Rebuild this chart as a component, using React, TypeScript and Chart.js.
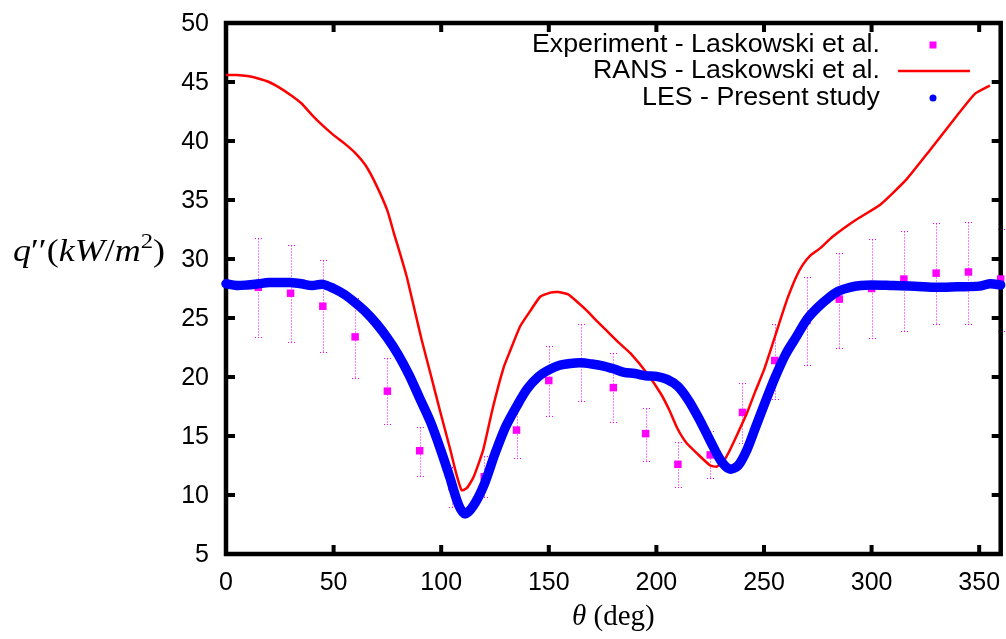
import React, { useEffect, useRef } from "react";
import { Chart, registerables } from "chart.js";

Chart.register(...registerables);

// ---------- data ----------
const expTheta = [15, 30, 45, 60, 75, 90, 105, 120, 135, 150, 165, 180, 195, 210, 225, 240, 255, 270, 285, 300, 315, 330, 345, 360];
const expQ = [27.6, 27.1, 26.0, 23.4, 18.8, 13.75, 10.7, 11.55, 15.5, 19.7, 21.2, 19.1, 15.2, 12.6, 13.4, 17.0, 21.4, 24.8, 26.6, 27.5, 28.3, 28.8, 28.9, 28.3];
const expHigh = [31.8, 31.15, 29.9, 26.7, 21.6, 15.8, 12.4, 13.3, 17.75, 22.6, 24.45, 22.0, 17.4, 14.5, 15.45, 19.5, 24.5, 28.5, 30.55, 31.7, 32.4, 33.05, 33.1, 32.5];
const expLow = [23.4, 23.0, 22.1, 19.9, 16.0, 11.6, 9.0, 9.8, 13.1, 16.7, 18.0, 16.2, 12.9, 10.7, 11.4, 14.4, 18.1, 21.05, 22.5, 23.3, 23.9, 24.45, 24.45, 23.9];

const ransTheta = [0, 5, 10, 15, 20, 25, 30, 35, 40, 45, 50, 55, 60, 65, 70, 75, 78, 81, 84, 88, 91, 95, 99.5, 104, 107, 109.5, 112, 115, 119.5, 124, 129, 132, 136.7, 141.4, 146, 150.7, 154.4, 159, 163, 167.8, 172, 177, 182, 188, 195.7, 202, 206, 209.6, 214, 219, 225, 228, 231, 234, 238, 242, 246, 250, 254, 257.7, 261, 265, 268, 271.6, 276, 282, 292.6, 304, 316, 327, 339, 348, 355];
const ransQ = [45.6, 45.6, 45.5, 45.3, 45.0, 44.5, 43.9, 43.2, 42.2, 41.3, 40.5, 39.8, 39.0, 37.9, 36.2, 34.1, 32.2, 30.4, 28.5, 25.4, 23.1, 20.3, 17.1, 14.0, 11.8, 10.4, 10.6, 11.5, 13.8, 17.4, 20.8, 22.2, 24.3, 25.6, 26.8, 27.15, 27.2, 27.0, 26.4, 25.6, 24.8, 23.9, 23.0, 22.0, 20.3, 18.6, 17.2, 15.7, 14.4, 13.5, 12.5, 12.4, 12.8, 13.75, 15.3, 16.9, 18.8, 20.6, 22.8, 24.9, 26.7, 28.5, 29.5, 30.3, 30.9, 31.9, 33.3, 34.6, 36.7, 39.2, 42.0, 44.0, 44.7];

const lesTheta = [0, 5, 10, 15, 20, 25, 30, 35, 40, 45, 50, 55, 60, 65, 70, 75, 80, 85, 90, 95, 100, 104, 108, 111, 115, 120, 125, 130, 135, 140, 145, 150, 155, 160, 165, 170, 175, 180, 185, 190, 195, 200, 205, 210, 215, 220, 225, 230, 234, 238, 242, 246, 250, 255, 260, 265, 270, 275, 280, 285, 290, 295, 300, 310, 320, 330, 340, 350, 355, 360];
const lesQ = [27.9, 27.75, 27.8, 27.9, 28.0, 28.0, 28.0, 27.9, 27.75, 27.85, 27.5, 27.0, 26.3, 25.5, 24.5, 23.3, 21.9, 20.2, 18.2, 16.2, 13.7, 11.5, 9.2, 8.4, 9.1, 10.9, 13.5, 15.8, 17.5, 19.0, 20.0, 20.6, 21.0, 21.15, 21.2, 21.1, 20.95, 20.7, 20.4, 20.3, 20.1, 20.05, 19.8, 19.2, 18.0, 16.4, 14.6, 12.9, 12.2, 12.5, 13.8, 15.7, 17.6, 19.9, 21.9, 23.4, 24.9, 25.9, 26.7, 27.3, 27.6, 27.75, 27.8, 27.75, 27.7, 27.6, 27.65, 27.7, 27.9, 27.8];

const xTicks = [0, 50, 100, 150, 200, 250, 300, 350];
const yTicks = [5, 10, 15, 20, 25, 30, 35, 40, 45, 50];

const legendLabels = ["Experiment - Laskowski et al.", "RANS - Laskowski et al.", "LES - Present study"];

const MAGENTA = "#ff00ff";
const RED = "#ff0000";
const BLUE = "#0000ff";
const SANS = '"Liberation Sans", Arial, Helvetica, sans-serif';
const SERIF = '"Liberation Serif", "DejaVu Serif", "Times New Roman", serif';

const framePlugin = {
  id: "gnuplotFrame",
  beforeDatasetsDraw(chart: any) {
    const { ctx, chartArea: a, scales } = chart;
    const xs = scales.x;
    const ys = scales.y;
    ctx.save();
    // error bars (dotted)
    ctx.strokeStyle = MAGENTA;
    ctx.lineWidth = 1;
    ctx.setLineDash([1, 2]);
    for (let i = 0; i < expTheta.length; i++) {
      const px = Math.round(xs.getPixelForValue(expTheta[i])) + 0.5;
      const pt = Math.round(ys.getPixelForValue(expHigh[i])) + 0.5;
      const pb = Math.round(ys.getPixelForValue(expLow[i])) + 0.5;
      ctx.beginPath();
      ctx.moveTo(px, pt);
      ctx.lineTo(px, pb);
      ctx.moveTo(px - 3.5, pt);
      ctx.lineTo(px + 3.5, pt);
      ctx.moveTo(px - 3.5, pb);
      ctx.lineTo(px + 3.5, pb);
      ctx.stroke();
    }
    ctx.setLineDash([]);
    // frame
    ctx.strokeStyle = "#000";
    ctx.lineWidth = 4.5;
    ctx.lineJoin = "miter";
    ctx.strokeRect(a.left, a.top, a.right - a.left, a.bottom - a.top);
    // ticks (inward, mirrored)
    ctx.lineWidth = 4;
    const tl = 9;
    for (const v of xTicks) {
      const px = xs.getPixelForValue(v);
      ctx.beginPath();
      ctx.moveTo(px, a.bottom);
      ctx.lineTo(px, a.bottom - tl);
      ctx.moveTo(px, a.top);
      ctx.lineTo(px, a.top + tl);
      ctx.stroke();
    }
    for (const v of yTicks) {
      const py = ys.getPixelForValue(v);
      ctx.beginPath();
      ctx.moveTo(a.left, py);
      ctx.lineTo(a.left + tl, py);
      ctx.moveTo(a.right, py);
      ctx.lineTo(a.right - tl, py);
      ctx.stroke();
    }
    ctx.restore();
  },
  afterDraw(chart: any) {
    const { ctx, chartArea: a, scales } = chart;
    const xs = scales.x;
    const ys = scales.y;
    ctx.save();
    ctx.fillStyle = "#000";
    ctx.font = `25px ${SANS}`;
    // y tick labels
    ctx.textAlign = "right";
    ctx.textBaseline = "middle";
    for (const v of yTicks) {
      ctx.fillText(String(v), a.left - 17, ys.getPixelForValue(v) + 1);
    }
    // x tick labels
    ctx.textAlign = "center";
    ctx.textBaseline = "alphabetic";
    for (const v of xTicks) {
      ctx.fillText(String(v), xs.getPixelForValue(v), a.bottom + 36);
    }

    // x title: θ (deg)
    {
      const f1 = `italic 29px ${SERIF}`;
      const f2 = `29px ${SERIF}`;
      ctx.font = f1;
      const w1 = ctx.measureText("θ").width;
      ctx.font = f2;
      const w2 = ctx.measureText(" (deg)").width;
      const cx = (a.left + a.right) / 2;
      const x = cx - (w1 + w2) / 2;
      ctx.textAlign = "left";
      ctx.font = f1;
      ctx.fillText("θ", x, 625);
      ctx.font = f2;
      ctx.fillText(" (deg)", x + w1, 625);
    }

    // y title: q''(kW/m^2)
    {
      const it = `italic 32px ${SERIF}`;
      const rm = `32px ${SERIF}`;
      const sup = `22px ${SERIF}`;
      const parts = [
        { t: "q", f: it, dy: 0 },
        { t: "′′", f: rm, dy: 0 },
        { t: "(", f: rm, dy: 0 },
        { t: "kW", f: it, dy: 0 },
        { t: "/", f: rm, dy: 0 },
        { t: "m", f: it, dy: 0 },
        { t: "2", f: sup, dy: -13 },
        { t: ")", f: rm, dy: 0 },
      ];
      let total = 0;
      const widths: number[] = [];
      for (const p of parts) {
        ctx.font = p.f;
        const w = ctx.measureText(p.t).width;
        widths.push(w);
        total += w;
      }
      const sx = 152 / total;
      ctx.save();
      ctx.translate(13, 261);
      ctx.scale(sx, 1);
      ctx.textAlign = "left";
      let x = 0;
      parts.forEach((p, i) => {
        ctx.font = p.f;
        ctx.fillText(p.t, x, p.dy);
        x += widths[i];
      });
      ctx.restore();
    }

    // legend (text stretched slightly to match the reference width)
    ctx.font = `25px ${SANS}`;
    ctx.textAlign = "right";
    ctx.textBaseline = "middle";
    const rows = [45, 71.5, 98];
    const sx = 348 / ctx.measureText(legendLabels[0]).width;
    legendLabels.forEach((t, i) => {
      ctx.save();
      ctx.translate(880, rows[i]);
      ctx.scale(sx, 1);
      ctx.fillText(t, 0, 0);
      ctx.restore();
    });
    ctx.fillStyle = MAGENTA;
    ctx.fillRect(933 - 3.5, rows[0] - 3.5, 7, 7);
    ctx.strokeStyle = RED;
    ctx.lineWidth = 2.5;
    ctx.beginPath();
    ctx.moveTo(898, 71);
    ctx.lineTo(970, 71);
    ctx.stroke();
    ctx.fillStyle = BLUE;
    ctx.beginPath();
    ctx.arc(933, 98, 3.5, 0, Math.PI * 2);
    ctx.fill();
    ctx.restore();
  },
};

export default function App() {
  const ref = useRef<HTMLCanvasElement | null>(null);
  useEffect(() => {
    const canvas = ref.current;
    if (!canvas) return;
    const chart = new Chart(canvas, {
      type: "scatter",
      data: {
        datasets: [
          {
            label: legendLabels[2],
            data: lesTheta.map((x, i) => ({ x, y: lesQ[i] })),
            showLine: true,
            borderColor: BLUE,
            backgroundColor: BLUE,
            borderWidth: 9.5,
            borderCapStyle: "round",
            borderJoinStyle: "round",
            pointRadius: 0,
            tension: 0.3,
            clip: false,
            order: 0,
          } as any,
          {
            label: legendLabels[1],
            data: ransTheta.map((x, i) => ({ x, y: ransQ[i] })),
            showLine: true,
            borderColor: RED,
            backgroundColor: RED,
            borderWidth: 2.5,
            pointRadius: 0,
            tension: 0.15,
            order: 1,
          } as any,
          {
            label: legendLabels[0],
            data: expTheta.map((x, i) => ({ x, y: expQ[i] })),
            showLine: false,
            pointStyle: "rect",
            pointRadius: 5.3,
            borderWidth: 0,
            backgroundColor: MAGENTA,
            borderColor: MAGENTA,
            clip: false,
            order: 2,
          } as any,
        ],
      },
      options: {
        animation: false,
        responsive: false,
        maintainAspectRatio: false,
        devicePixelRatio: 1,
        layout: { padding: { left: 226, top: 23, right: 5, bottom: 85 } },
        plugins: { legend: { display: false }, tooltip: { enabled: false } },
        scales: {
          x: { type: "linear", min: 0, max: 360, display: false },
          y: { type: "linear", min: 5, max: 50, display: false },
        },
      } as any,
      plugins: [framePlugin],
    });
    return () => chart.destroy();
  }, []);
  return (
    <div style={{ position: "absolute", left: 0, top: 0, width: 1006, height: 639, background: "#fff" }}>
      <canvas ref={ref} width={1006} height={639} style={{ width: 1006, height: 639, display: "block" }} />
    </div>
  );
}
